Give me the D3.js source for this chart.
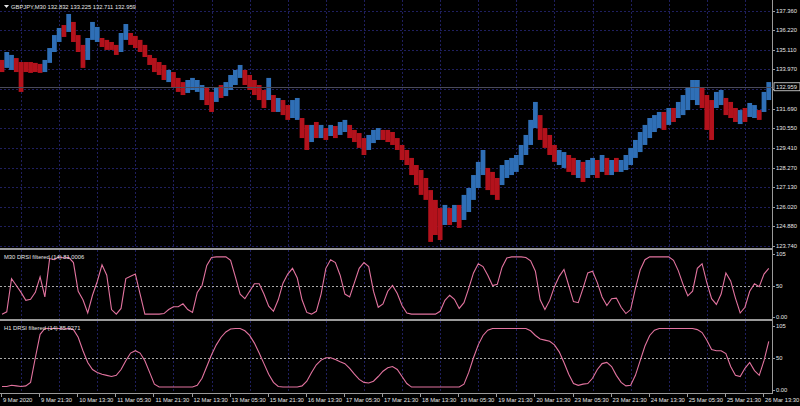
<!DOCTYPE html>
<html><head><meta charset="utf-8">
<script src="https://cdn.jsdelivr.net/npm/d3@7"></script>
<style>body{margin:0;background:#000}svg{display:block}</style>
</head><body><svg id="c" width="800" height="406"></svg>
<script>
const symbolTitle = "GBPJPY,M30  132.832 133.225 132.711 132.959";
const m30Title = "M30 DRSI filtered (14) 81.0006";
const h1Title = "H1 DRSI filtered (14) 85.9271";
const timeLabels = ["9 Mar 2020","9 Mar 21:30","10 Mar 13:30","11 Mar 05:30","11 Mar 21:30","12 Mar 13:30","13 Mar 05:30","15 Mar 21:30","16 Mar 13:30","17 Mar 05:30","17 Mar 21:30","18 Mar 13:30","19 Mar 05:30","19 Mar 21:30","20 Mar 13:30","23 Mar 05:30","23 Mar 21:30","24 Mar 13:30","25 Mar 05:30","25 Mar 21:30","26 Mar 13:30"];
const priceTicks = [137.360,136.220,135.110,133.970,132.830,131.690,130.550,129.410,128.270,127.130,126.020,124.880,123.740];
const lastPrice = 132.959;
const rsiLevels = [105,50,-5];
const rsiLevelLabels = ["105","50","0.00"];
// one sample every 4 M30 bars
const priceHigh = [134.51,134.97,134.80,134.62,134.39,134.39,134.39,134.34,134.28,134.51,135.20,135.95,136.36,136.53,137.17,136.71,135.95,135.38,135.78,136.71,136.42,135.78,135.67,135.55,135.38,136.07,136.59,136.07,135.90,135.67,135.38,134.80,134.62,134.39,134.22,133.93,133.81,133.47,133.23,133.35,133.47,133.35,133.06,132.89,132.66,132.89,133.06,133.23,133.64,133.93,134.22,133.93,133.64,133.35,133.06,132.77,133.47,132.48,132.31,132.19,131.90,132.19,132.31,131.15,130.75,130.75,130.92,130.75,130.57,130.75,130.69,130.92,131.04,130.75,130.46,130.28,129.99,130.17,130.46,130.57,130.46,130.46,130.34,129.99,129.59,129.30,128.84,128.43,128.14,127.68,126.98,126.41,125.94,126.12,125.94,126.12,126.12,126.70,127.10,127.85,128.61,129.30,128.26,128.03,127.68,128.43,128.72,128.84,129.01,129.59,130.17,131.04,132.08,131.32,130.57,130.17,129.59,129.30,129.18,129.01,128.84,128.72,128.61,128.72,128.84,128.72,129.01,128.84,128.72,128.84,128.72,129.01,129.42,129.88,130.34,130.75,131.15,131.32,131.50,131.50,131.73,131.73,132.08,132.48,132.89,133.35,133.35,132.89,132.48,132.19,132.66,132.77,132.31,132.08,131.73,131.61,131.73,132.02,131.90,131.61,132.66,133.23];
const priceLow = [133.81,134.05,133.93,133.81,132.66,133.81,133.76,133.81,133.76,133.81,134.34,134.97,135.55,135.84,136.13,135.55,134.97,134.05,134.51,135.67,135.55,135.26,135.09,135.09,134.80,134.97,135.67,135.38,135.20,134.97,134.68,134.22,133.81,133.64,133.35,133.23,132.89,132.66,132.48,132.60,132.77,132.66,132.19,131.90,131.50,132.08,132.31,132.42,132.77,133.06,133.47,133.06,132.77,132.48,132.19,131.73,132.19,131.50,131.50,131.32,131.04,131.15,131.04,129.99,129.30,129.76,129.99,129.99,129.88,130.11,129.99,130.17,130.34,129.99,129.76,129.42,129.01,129.30,129.70,129.88,129.88,129.76,129.59,129.30,128.72,128.43,127.85,127.27,126.70,126.41,123.98,124.38,124.09,124.96,124.96,125.13,124.79,125.25,125.71,126.41,127.10,127.85,126.98,126.70,126.41,127.27,127.68,127.85,128.03,128.43,129.01,129.59,130.57,129.88,129.42,129.01,128.61,128.43,128.26,128.03,127.85,127.68,127.45,127.68,127.85,127.68,128.03,127.85,127.85,128.03,128.03,128.14,128.43,128.84,129.18,129.59,129.99,130.34,130.57,130.46,130.75,130.92,131.15,131.32,131.61,132.19,131.90,131.73,130.46,129.88,131.73,131.90,131.32,131.15,130.92,130.80,130.92,131.21,131.15,131.04,131.50,132.19];
const priceDir = [0,1,1,0,0,0,0,0,0,1,1,1,1,0,1,0,0,0,1,1,1,0,0,0,0,1,1,0,0,0,0,0,0,0,0,1,0,0,0,1,1,1,1,0,0,1,0,1,1,1,1,0,0,0,0,0,1,0,1,0,0,1,1,0,0,1,0,1,0,1,0,1,1,0,0,0,0,1,1,1,0,0,0,0,0,0,0,0,0,0,0,0,0,1,0,1,0,1,1,1,1,1,0,0,0,1,1,1,1,1,1,1,1,0,0,0,0,1,1,0,0,1,0,1,1,0,1,0,1,0,1,1,1,1,1,1,1,1,1,0,1,0,1,1,1,1,1,0,0,0,1,1,0,0,0,1,0,1,1,0,1,1];
const rsiM30 = [0,4,62,50,38,24,26,38,65,30,97,95,100,98,99,90,40,25,2,33,57,86,68,8,0,10,62,66,70,35,0,0,0,0,1,8,13,13,18,8,3,38,50,85,99,100,100,100,94,65,35,27,40,53,53,35,14,5,25,54,70,80,63,25,3,0,5,35,80,95,90,68,35,30,55,80,90,83,40,12,18,40,50,36,15,2,0,0,0,0,0,0,5,24,33,26,10,20,45,72,88,83,68,50,52,82,98,100,100,100,99,93,75,25,8,24,48,66,78,50,22,20,45,72,75,55,30,15,27,28,12,1,8,45,77,95,100,100,100,100,100,94,76,52,32,40,80,88,55,27,17,35,72,58,28,2,12,40,53,48,70,80];
const rsiH1 = [1,1,3,2,1,2,8,50,90,100,100,100,100,99,100,98,85,62,42,30,25,22,20,18,20,30,45,58,62,58,45,25,5,0,0,0,0,0,0,0,0,3,15,35,55,72,85,94,99,100,100,96,88,75,58,40,22,8,1,0,0,0,0,2,10,25,38,46,50,50,47,43,40,32,22,13,8,7,10,18,27,33,35,30,18,6,0,0,0,0,0,0,0,0,0,0,0,5,25,50,72,88,97,100,100,100,100,100,100,100,100,96,88,82,80,78,72,60,42,22,6,3,5,6,15,30,40,42,35,20,8,2,3,20,45,70,88,97,100,100,100,100,100,100,100,100,98,93,80,64,62,62,57,35,20,18,32,42,28,20,45,78];

const stride = 4, barsPerLabel = 32;
const W = 800, XR = 772;
const svg = d3.select("#c");
svg.append("rect").attr("width", W).attr("height", 406).attr("fill", "#000");
const font = "'Liberation Sans', Arial, sans-serif";
const fs = 5.8;
const gridCol = "#1f1f5e";
const txtCol = "#e6e6e6";
const borderCol = "#9a9a9a";

const x = d3.scaleLinear().domain([0, barsPerLabel]).range([2, 40.1]);
const yP = d3.scaleLinear().domain([123.74, 137.36]).range([246.06, 10.7]);
const y1 = d3.scaleLinear().domain([-5, 105]).range([317, 254]);
const y2 = d3.scaleLinear().domain([-5, 105]).range([390, 325.5]);
const panels = [[0, 248], [250, 319], [321, 393]];

// vertical grid
const gridIdx = d3.range(0, timeLabels.length).map(k => k * barsPerLabel + barsPerLabel / 2).filter(i => x(i) < XR);
panels.forEach(([t, b]) => {
  svg.append("g").selectAll("line").data(gridIdx).join("line")
    .attr("x1", d => Math.round(x(d)) + 0.5).attr("x2", d => Math.round(x(d)) + 0.5)
    .attr("y1", t).attr("y2", b).attr("stroke", gridCol).attr("stroke-width", 1).attr("stroke-dasharray", "2,2");
});
// horizontal price grid
svg.append("g").selectAll("line").data(priceTicks).join("line")
  .attr("x1", 0).attr("x2", XR).attr("y1", d => Math.round(yP(d)) + 0.5).attr("y2", d => Math.round(yP(d)) + 0.5)
  .attr("stroke", gridCol).attr("stroke-dasharray", "2,2");
// level 50 lines
[y1, y2].forEach(ys => {
  svg.append("line").attr("x1", 0).attr("x2", XR).attr("y1", Math.round(ys(50)) + 0.5).attr("y2", Math.round(ys(50)) + 0.5)
    .attr("stroke", "#a8a8a8").attr("stroke-dasharray", "2,2");
});

// price bars
const bw = x(stride) - x(0);
const idx = priceHigh.map((d, i) => i);
svg.append("g").selectAll("rect").data(idx).join("rect")
  .attr("x", i => x(i * stride) - bw / 2)
  .attr("width", bw)
  .attr("y", i => yP(priceHigh[i]))
  .attr("height", i => Math.max(1, yP(priceLow[i]) - yP(priceHigh[i])))
  .attr("fill", i => priceDir[i] ? "#2f6fb6" : "#b3121c");

// current price line
svg.append("line").attr("x1", 0).attr("x2", XR).attr("y1", Math.round(yP(lastPrice)) + 0.5).attr("y2", Math.round(yP(lastPrice)) + 0.5)
  .attr("stroke", "#4a4a5a").attr("stroke-width", 1);

// RSI lines
const rsiCol = "#e2739f";
[[rsiM30, y1], [rsiH1, y2]].forEach(([arr, ys]) => {
  const ln = d3.line().x((d, i) => x(i * stride)).y(d => ys(d));
  svg.append("path").attr("d", ln(arr)).attr("fill", "none").attr("stroke", rsiCol).attr("stroke-width", 1.1);
});

// separators and axes
svg.append("rect").attr("x", 0).attr("y", 248).attr("width", XR + 1).attr("height", 2).attr("fill", borderCol);
svg.append("rect").attr("x", 0).attr("y", 319).attr("width", XR + 1).attr("height", 2).attr("fill", borderCol);
svg.append("line").attr("x1", XR + 0.5).attr("x2", XR + 0.5).attr("y1", 0).attr("y2", 393).attr("stroke", borderCol);
svg.append("line").attr("x1", 0).attr("x2", XR + 1).attr("y1", 393.5).attr("y2", 393.5).attr("stroke", borderCol);

// price axis (the tick hidden by the last-price box gets no label)
const ly = yP(lastPrice);
const labelTicks = priceTicks.filter(d => Math.abs(yP(d) - ly) > 7);
const pa = svg.append("g");
pa.selectAll("line").data(priceTicks).join("line")
  .attr("x1", XR).attr("x2", XR + 3).attr("y1", d => Math.round(yP(d)) + 0.5).attr("y2", d => Math.round(yP(d)) + 0.5).attr("stroke", borderCol);
pa.selectAll("text").data(labelTicks).join("text")
  .attr("x", XR + 4).attr("y", d => yP(d) + 2).text(d => d.toFixed(3))
  .attr("fill", txtCol).attr("font-family", font).attr("font-size", fs);
// last price box
svg.append("rect").attr("x", XR + 2).attr("y", ly - 4).attr("width", 26).attr("height", 8).attr("fill", "#000").attr("stroke", "#e0e0e0").attr("stroke-width", 0.8);
svg.append("text").attr("x", XR + 4).attr("y", ly + 2).text(lastPrice.toFixed(3)).attr("fill", txtCol).attr("font-family", font).attr("font-size", fs);

// rsi axes
[y1, y2].forEach(ys => {
  const g = svg.append("g");
  g.selectAll("line").data(rsiLevels).join("line").attr("x1", XR).attr("x2", XR + 3)
    .attr("y1", d => Math.round(ys(d)) + 0.5).attr("y2", d => Math.round(ys(d)) + 0.5).attr("stroke", borderCol);
  g.selectAll("text").data(rsiLevels).join("text").attr("x", XR + 4).attr("y", d => ys(d) + 2)
    .text((d, i) => rsiLevelLabels[i]).attr("fill", txtCol).attr("font-family", font).attr("font-size", fs);
});

// time axis
const ta = svg.append("g");
ta.selectAll("line").data(timeLabels).join("line")
  .attr("x1", (d, i) => Math.round(x(i * barsPerLabel)) - 0.5).attr("x2", (d, i) => Math.round(x(i * barsPerLabel)) - 0.5)
  .attr("y1", 393).attr("y2", 397).attr("stroke", borderCol);
ta.selectAll("text").data(timeLabels).join("text")
  .attr("x", (d, i) => x(i * barsPerLabel) + 1).attr("y", 402).text(d => d)
  .attr("fill", txtCol).attr("font-family", font).attr("font-size", fs);

// titles
svg.append("path").attr("d", "M4,5 L9,5 L6.5,8 Z").attr("fill", "#e6e6e6");
svg.append("text").attr("x", 11).attr("y", 9).text(symbolTitle).attr("fill", txtCol).attr("font-family", font).attr("font-size", fs);
svg.append("text").attr("x", 4).attr("y", 259).text(m30Title).attr("fill", txtCol).attr("font-family", font).attr("font-size", fs);
svg.append("text").attr("x", 4).attr("y", 330).text(h1Title).attr("fill", txtCol).attr("font-family", font).attr("font-size", fs);
</script></body></html>
